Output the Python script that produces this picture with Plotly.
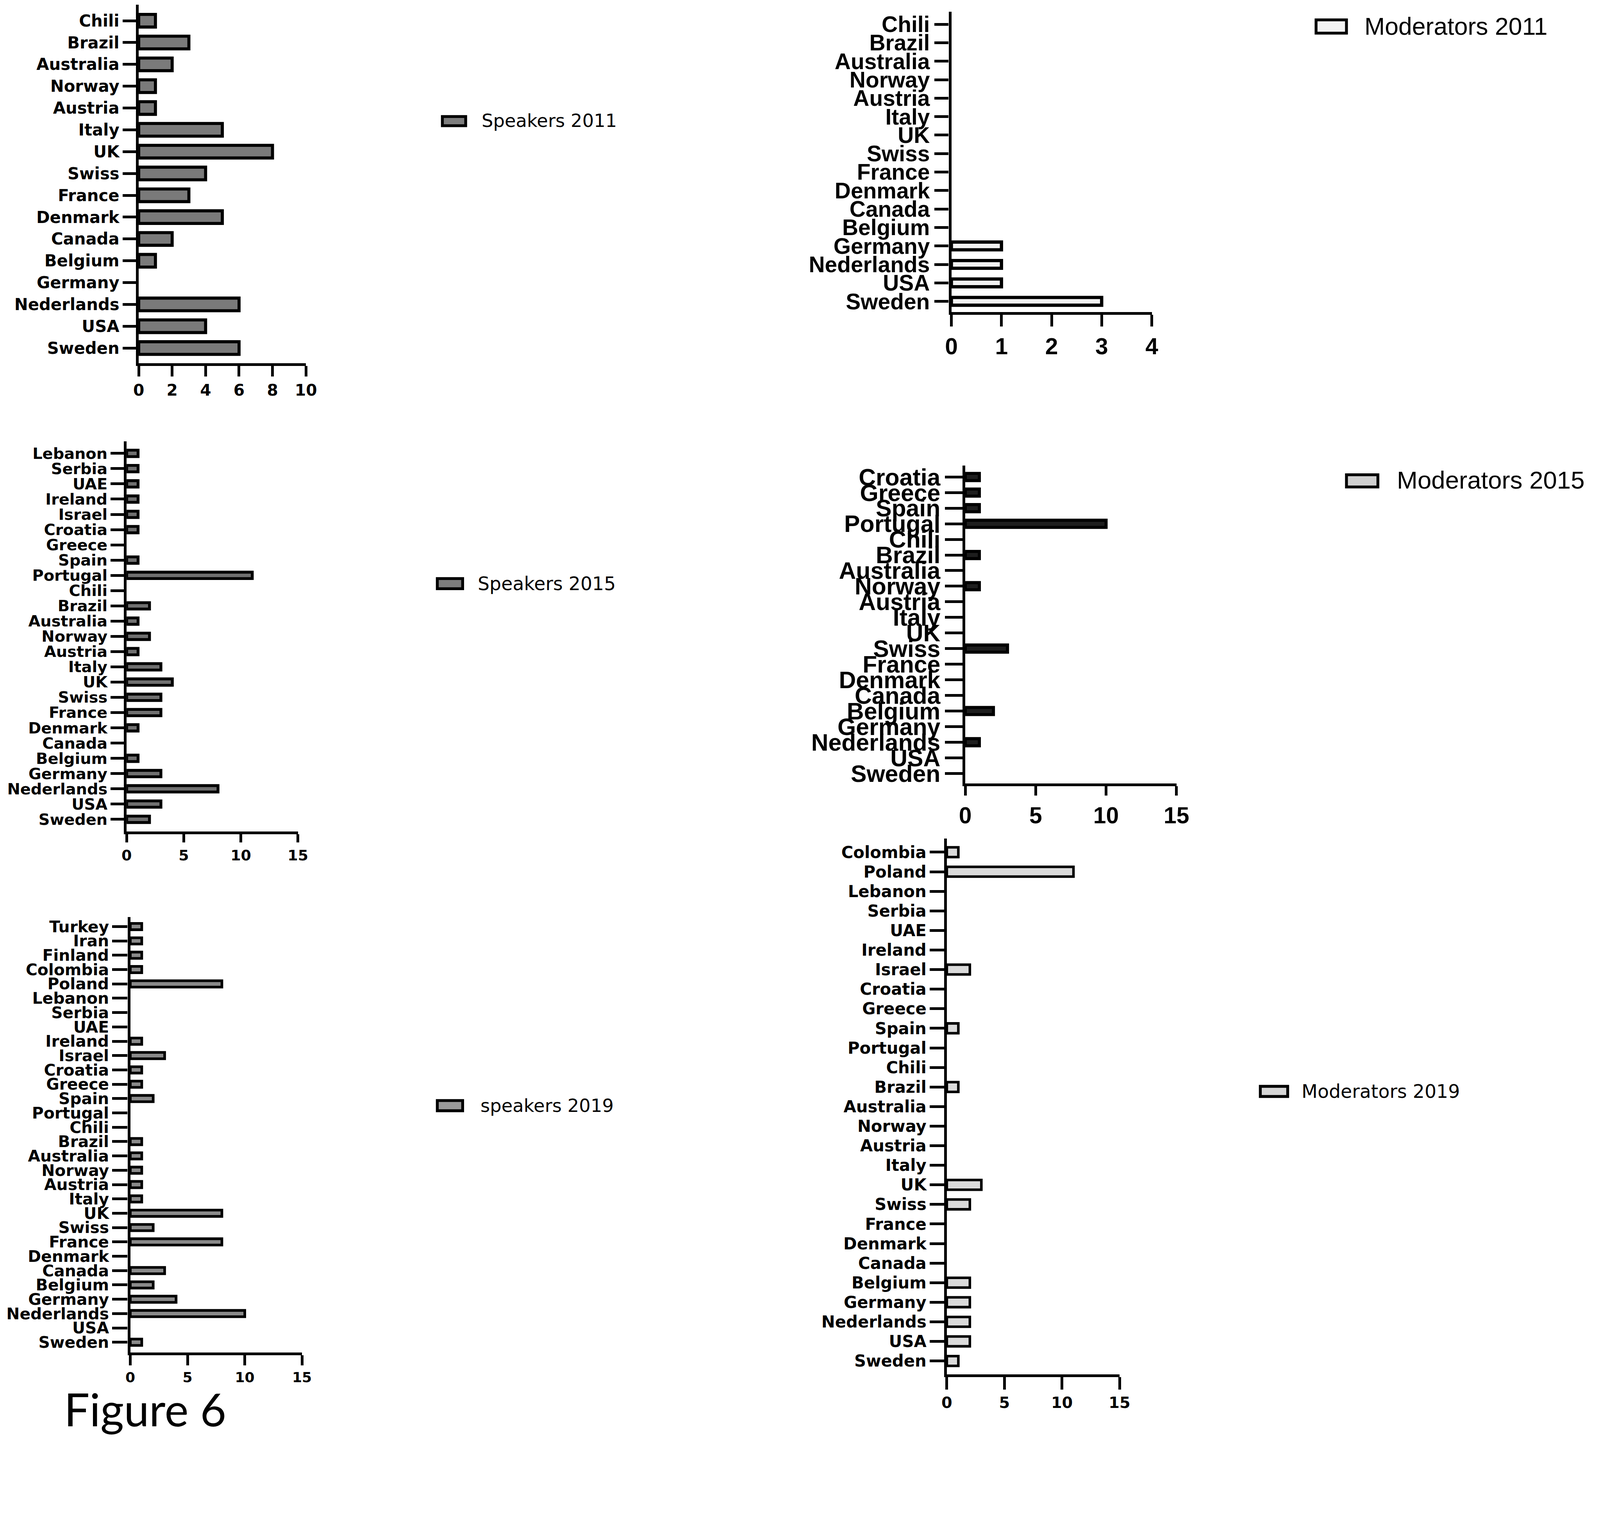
import plotly.graph_objects as go

# ---------------- data ----------------
speakers_2011_countries = ["Chili", "Brazil", "Australia", "Norway", "Austria", "Italy", "UK", "Swiss",
                           "France", "Denmark", "Canada", "Belgium", "Germany", "Nederlands", "USA", "Sweden"]
speakers_2011 = [1, 3, 2, 1, 1, 5, 8, 4, 3, 5, 2, 1, 0, 6, 4, 6]

moderators_2011_countries = ["Chili", "Brazil", "Australia", "Norway", "Austria", "Italy", "UK", "Swiss",
                             "France", "Denmark", "Canada", "Belgium", "Germany", "Nederlands", "USA", "Sweden"]
moderators_2011 = [0, 0, 0, 0, 0, 0, 0, 0, 0, 0, 0, 0, 1, 1, 1, 3]

speakers_2015_countries = ["Lebanon", "Serbia", "UAE", "Ireland", "Israel", "Croatia", "Greece", "Spain",
                           "Portugal", "Chili", "Brazil", "Australia", "Norway", "Austria", "Italy", "UK",
                           "Swiss", "France", "Denmark", "Canada", "Belgium", "Germany", "Nederlands", "USA",
                           "Sweden"]
speakers_2015 = [1, 1, 1, 1, 1, 1, 0, 1, 11, 0, 2, 1, 2, 1, 3, 4, 3, 3, 1, 0, 1, 3, 8, 3, 2]

moderators_2015_countries = ["Croatia", "Greece", "Spain", "Portugal", "Chili", "Brazil", "Australia",
                             "Norway", "Austria", "Italy", "UK", "Swiss", "France", "Denmark", "Canada",
                             "Belgium", "Germany", "Nederlands", "USA", "Sweden"]
moderators_2015 = [1, 1, 1, 10, 0, 1, 0, 1, 0, 0, 0, 3, 0, 0, 0, 2, 0, 1, 0, 0]

speakers_2019_countries = ["Turkey", "Iran", "Finland", "Colombia", "Poland", "Lebanon", "Serbia", "UAE",
                           "Ireland", "Israel", "Croatia", "Greece", "Spain", "Portugal", "Chili", "Brazil",
                           "Australia", "Norway", "Austria", "Italy", "UK", "Swiss", "France", "Denmark",
                           "Canada", "Belgium", "Germany", "Nederlands", "USA", "Sweden"]
speakers_2019 = [1, 1, 1, 1, 8, 0, 0, 0, 1, 3, 1, 1, 2, 0, 0, 1, 1, 1, 1, 1, 8, 2, 8, 0, 3, 2, 4, 10, 0, 1]

moderators_2019_countries = ["Colombia", "Poland", "Lebanon", "Serbia", "UAE", "Ireland", "Israel", "Croatia",
                             "Greece", "Spain", "Portugal", "Chili", "Brazil", "Australia", "Norway", "Austria",
                             "Italy", "UK", "Swiss", "France", "Denmark", "Canada", "Belgium", "Germany",
                             "Nederlands", "USA", "Sweden"]
moderators_2019 = [1, 11, 0, 0, 0, 0, 2, 0, 0, 1, 0, 0, 1, 0, 0, 0, 0, 3, 2, 0, 0, 0, 2, 2, 2, 2, 1]

x_ticks_2011_speakers = [0, 2, 4, 6, 8, 10]
x_ticks_2011_moderators = [0, 1, 2, 3, 4]
x_ticks_15 = [0, 5, 10, 15]

series_names = ["Speakers 2011", "Moderators 2011", "Speakers 2015", "Moderators 2015",
                "speakers 2019", "Moderators 2019"]
figure_caption = "Figure 6"

# ---------------- layout geometry ----------------
# positions below are given in sketch units of the reference (1567 x 1414.5 for the 4317 x 3897 image)
DW, DH = 1567.0, 1414.5
REF_W, REF_H = 4317, 3897
ZOOM = 4317 / 4096.0            # page scale observed in the renderer
BODY = 8                        # default page body margin
FW = int(round(REF_W / ZOOM)) - 2 * BODY
FH = int(round(REF_H / ZOOM)) - 2 * BODY
SX = REF_W / DW / ZOOM          # figure px per sketch unit
SY = REF_H / DH / ZOOM
X_GAIN, X_SHIFT = 0.9953, 1.75  # small horizontal correction measured on an earlier render


def clamp01(v):
    return min(1.0, max(0.0, v))


def fx(r):
    r = (r - X_SHIFT) / X_GAIN
    return clamp01((r * SX - BODY) / FW)


def fy(r):
    return clamp01(1 - (r * SY - BODY) / FH)


def fs(ref_px):
    return ref_px / ZOOM


def lw(units):
    return units * SX


TOP_MIN = BODY / SY + 0.05      # highest sketch row that still lies inside the figure

DEJ = "DejaVu Sans"
LIB = "Liberation Sans, Arial"

panels = [
    dict(cats=speakers_2011_countries, vals=speakers_2011, name=series_names[0], xmax=10,
         ticks=x_ticks_2011_speakers, x0=132.4, x1=297.4, top=3, first=18.8, last=340.5, bottom=355.5,
         fill="#7a7a7a", lw=3.0, bw=0.58, cfont=(DEJ, 44), tfont=(DEJ, 43), yticklen=13, xticklen=10,
         leg=(432, 455, 113, 122, 470, 117), legfont=(DEJ, 49), legfill="#7d7d7d"),
    dict(cats=moderators_2011_countries, vals=moderators_2011, name=series_names[1], xmax=4,
         ticks=x_ticks_2011_moderators, x0=934.2, x1=1131.9, top=10, first=22.3, last=294.6, bottom=305,
         fill="#f2f2f2", lw=3.2, bw=0.42, cfont=(LIB, 60), tfont=(LIB, 62), yticklen=14, xticklen=11.5,
         leg=(1294, 1324, 18, 31, 1341, 24), legfont=(LIB, 66), legfill="#f2f2f2"),
    dict(cats=speakers_2015_countries, vals=speakers_2015, name=series_names[2], xmax=15,
         ticks=x_ticks_15, x0=120.5, x1=289.5, top=432, first=444, last=803.6, bottom=815.6,
         fill="#707070", lw=2.8, bw=0.42, cfont=(DEJ, 42), tfont=(DEJ, 40), yticklen=13, xticklen=8,
         leg=(427, 452, 567, 577, 466, 572), legfont=(DEJ, 50), legfill="#7d7d7d"),
    dict(cats=moderators_2015_countries, vals=moderators_2015, name=series_names[3], xmax=15,
         ticks=x_ticks_15, x0=947.9, x1=1156.3, top=456, first=467.2, last=758.5, bottom=768.5,
         fill="#1e1e1e", lw=3.0, bw=0.46, cfont=(LIB, 64), tfont=(LIB, 62), yticklen=17, xticklen=9,
         leg=(1324, 1355, 465, 477, 1373, 470), legfont=(LIB, 67), legfill="#d0d0d0"),
    dict(cats=speakers_2019_countries, vals=speakers_2019, name=series_names[4], xmax=15,
         ticks=x_ticks_15, x0=124.1, x1=293.5, top=899.6, first=909, last=1317.5, bottom=1327.5,
         fill="#8a8a8a", lw=2.6, bw=0.44, cfont=(DEJ, 43), tfont=(DEJ, 38), yticklen=15, xticklen=10,
         leg=(427, 452, 1080, 1090, 469, 1085), legfont=(DEJ, 49), legfill="#9a9a9a"),
    dict(cats=moderators_2019_countries, vals=moderators_2019, name=series_names[5], xmax=15,
         ticks=x_ticks_15, x0=929.7, x1=1100.1, top=822.3, first=835.9, last=1335.9, bottom=1349.1,
         fill="#dadada", lw=2.5, bw=0.5, cfont=(DEJ, 44), tfont=(DEJ, 42), yticklen=14, xticklen=12,
         leg=(1239, 1266, 1066, 1076, 1279, 1071), legfont=(DEJ, 50), legfill="#d6d6d6"),
]

fig = go.Figure()
shapes = []
annotations = []
layout = {}

for i, p in enumerate(panels):
    k = "" if i == 0 else str(i + 1)
    n = len(p["cats"])
    top = max(p["top"], TOP_MIN)
    sp = (p["last"] - p["first"]) / (n - 1)
    y_dom = [fy(p["bottom"]), fy(top)]
    y_rng = [(n - 1) + (p["bottom"] - p["last"]) / sp, (top - p["first"]) / sp]
    x_dom = [fx(p["x0"]), fx(p["x1"])]

    fig.add_trace(go.Bar(
        x=[v if v else None for v in p["vals"]], y=p["cats"], orientation="h",
        name=p["name"], showlegend=False, width=p["bw"],
        marker=dict(color=p["fill"], line=dict(color="black", width=lw(p["lw"]))),
        xaxis="x" + k, yaxis="y" + k,
    ))

    layout["xaxis" + k] = dict(
        domain=x_dom, range=[0, p["xmax"]], anchor="y" + k,
        tickmode="array", tickvals=p["ticks"], ticktext=[str(t) for t in p["ticks"]],
        showline=True, linecolor="black", linewidth=lw(2.8), mirror=False,
        ticks="outside", ticklen=lw(p["xticklen"]), tickwidth=lw(2.5), tickcolor="black",
        tickfont=dict(family=p["tfont"][0], size=fs(p["tfont"][1]), color="black", weight="bold"),
        showgrid=False, zeroline=False, fixedrange=True,
    )
    layout["yaxis" + k] = dict(
        domain=y_dom, range=y_rng, anchor="x" + k, type="category",
        categoryorder="array", categoryarray=p["cats"],
        tickmode="array", tickvals=p["cats"], ticktext=p["cats"],
        showline=True, linecolor="black", linewidth=lw(2.8), mirror=False,
        ticks="outside", ticklen=lw(p["yticklen"]), tickwidth=lw(2.5), tickcolor="black",
        tickfont=dict(family=p["cfont"][0], size=fs(p["cfont"][1]), color="black", weight="bold"),
        showgrid=False, zeroline=False, fixedrange=True,
    )

    lx0, lx1, ly0, ly1, tx, ty = p["leg"]
    shapes.append(dict(type="rect", xref="paper", yref="paper",
                       x0=fx(lx0), x1=fx(lx1), y0=fy(ly1), y1=fy(ly0),
                       fillcolor=p["legfill"], line=dict(color="black", width=lw(2.8))))
    annotations.append(dict(xref="paper", yref="paper", x=fx(tx), y=fy(ty),
                            xanchor="left", yanchor="middle", showarrow=False, text=p["name"],
                            font=dict(family=p["legfont"][0], size=fs(p["legfont"][1]), color="black")))

annotations.append(dict(xref="paper", yref="paper", x=fx(58), y=fy(1383),
                        xanchor="left", yanchor="middle", showarrow=False, text=figure_caption,
                        font=dict(family="Lato, Open Sans", size=fs(122), color="black")))

fig.update_layout(
    width=FW, height=FH, autosize=False,
    margin=dict(l=0, r=0, t=0, b=0, pad=0),
    paper_bgcolor="white", plot_bgcolor="white",
    shapes=shapes, annotations=annotations,
    **layout,
)

fig.write_html("out.html")
